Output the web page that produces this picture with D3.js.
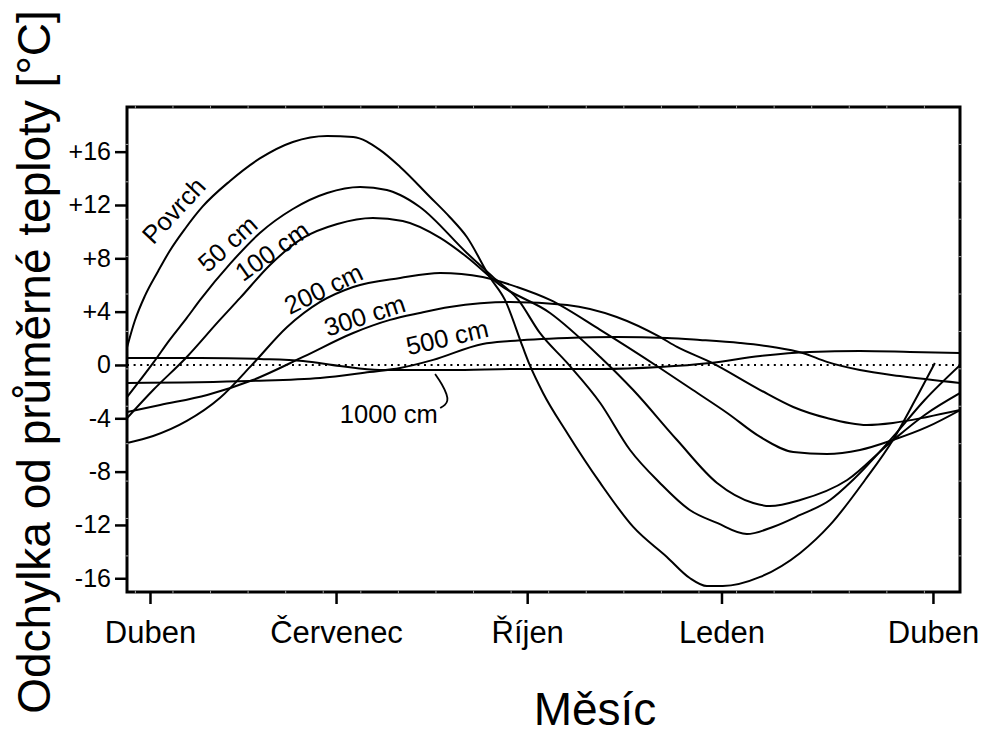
<!DOCTYPE html>
<html>
<head>
<meta charset="utf-8">
<script src="https://cdn.jsdelivr.net/npm/d3@7"></script>
<style>
  body { margin: 0; background: #fff; }
  svg text { font-family: "Liberation Sans", Arial, sans-serif; fill: #000; }
</style>
</head>
<body>
<div id="chart"></div>
<script>
// x in months from 1 April, y in degrees C deviation
const monthTicks = [0, 2.93, 5.94, 9.0, 12.33];
const monthLabels = ["Duben", "Červenec", "Říjen", "Leden", "Duben"];
const tempTicks = [16, 12, 8, 4, 0, -4, -8, -12, -16];
const tempTickLabels = ["+16", "+12", "+8", "+4", "0", "-4", "-8", "-12", "-16"];

const povrch = [[-0.36, 1.35], [-0.24, 3.3], [-0.08, 5.18], [0.13, 7.05], [0.31, 8.55], [0.55, 10.2],
  [0.83, 11.89], [1.26, 13.8], [1.73, 15.49], [2.25, 16.73], [2.79, 17.18], [3.2, 17.1], [3.62, 16.13],
  [3.94, 14.85], [4.41, 12.6], [4.72, 11.1], [4.99, 9.6], [5.35, 6.6], [5.59, 4.88], [5.87, 1.35],
  [5.98, 0], [6.19, -2.1], [6.57, -5.1], [7.09, -8.85], [7.61, -12.15], [8.14, -14.4], [8.5, -15.98],
  [8.77, -16.58], [9.02, -16.58], [9.61, -15.9], [10.24, -14.1], [10.71, -12.0], [11.26, -8.63],
  [11.7, -5.63], [12.05, -2.63], [12.36, 0.15]];
const cm50 = [[-0.36, -2.4], [0.05, 0.15], [0.31, 1.88], [0.58, 3.53], [0.79, 4.88], [1.26, 7.58],
  [1.73, 9.9], [2.25, 11.7], [2.79, 12.9], [3.31, 13.35], [3.73, 13.13], [3.94, 12.75], [4.25, 11.85],
  [4.99, 8.4], [5.4, 6.6], [5.8, 4.88], [6.14, 2.4], [6.57, 0.15], [7.09, -2.85], [7.56, -6.38],
  [8.03, -8.85], [8.5, -10.88], [8.93, -11.85], [9.4, -12.68], [9.81, -12.15], [10.24, -11.25],
  [10.71, -10.13], [11.07, -8.63], [11.7, -5.4], [12.2, -2.63], [12.76, 0]];
const cm100 = [[-0.36, -3.98], [0.05, -1.88], [0.58, 0.6], [1.1, 3.38], [1.42, 5.03], [1.89, 7.5],
  [2.41, 9.53], [2.95, 10.58], [3.51, 11.03], [3.98, 10.8], [4.57, 9.53], [4.99, 8.1], [5.51, 6.0],
  [6.3, 3.9], [7.09, 0.6], [7.61, -1.88], [8.3, -5.63], [8.93, -8.85], [9.5, -10.35], [9.76, -10.58],
  [10.24, -10.13], [10.98, -8.63], [11.65, -5.85], [12.2, -3.75], [12.76, -2.1]];
const cm200 = [[-0.36, -5.85], [0.05, -5.33], [0.58, -4.2], [1.1, -2.48], [1.62, 0.08], [2.16, 2.85],
  [2.68, 4.73], [3.2, 5.85], [3.94, 6.53], [4.57, 6.9], [5.24, 6.6], [5.78, 5.85], [6.3, 4.88],
  [7.09, 2.63], [8.03, -0.23], [8.55, -1.88], [9.09, -3.6], [9.61, -5.4], [10.13, -6.53], [10.66, -6.68],
  [11.18, -6.38], [11.7, -5.63], [12.24, -4.65], [12.76, -3.38]];
const cm300 = [[-0.36, -3.53], [0.16, -3.0], [0.9, -2.25], [1.62, -1.13], [2.41, 0.6], [3.2, 2.4],
  [3.78, 3.38], [4.25, 3.9], [4.72, 4.35], [5.67, 4.73], [6.57, 4.5], [7.35, 3.6], [8.03, 2.1], [8.3, 1.35],
  [8.82, 0.23], [9.61, -1.88], [10.13, -3.15], [10.66, -3.98], [11.29, -4.5], [11.7, -4.35],
  [12.24, -3.9], [12.76, -3.38]];
const cm500 = [[-0.36, -1.35], [1.57, -1.2], [2.68, -0.98], [3.46, -0.53], [3.94, -0.23], [4.46, 0.38],
  [5.24, 1.58], [5.67, 1.8], [6.57, 2.03], [7.35, 2.1], [8.14, 2.03], [8.66, 1.88], [9.29, 1.65],
  [9.81, 1.35], [10.28, 0.9], [10.66, 0.23], [11.18, -0.38], [11.81, -0.83], [12.76, -1.35]];
const cm1000 = [[-0.36, 0.53], [0.79, 0.53], [1.73, 0.45], [2.41, 0.3], [2.99, -0.08], [3.62, -0.38],
  [4.72, -0.38], [5.83, -0.3], [7.09, -0.3], [8.03, -0.15], [8.82, 0.15], [9.61, 0.68], [10.39, 0.98],
  [11.18, 1.05], [11.97, 0.98], [12.76, 0.9]];

const seriesNames = ["Povrch", "50 cm", "100 cm", "200 cm", "300 cm", "500 cm", "1000 cm"];
const seriesData = [povrch, cm50, cm100, cm200, cm300, cm500, cm1000];

// label anchors [month, value, rotation]
const labelPos = [[0.37, 11.6, -47], [1.22, 9.12, -42], [1.92, 8.56, -35], [2.73, 5.74, -26],
  [3.38, 3.74, -18], [4.68, 2.1, -13], [3.76, -3.68, 0]];
const leader1000 = [[4.49, -0.68], [4.6, -1.43], [4.68, -2.25], [4.69, -2.7], [4.65, -3.0], [4.57, -3.23]];

const width = 981;
const height = 736;

const svg = d3.select("#chart")
  .append("svg")
  .attr("width", width)
  .attr("height", height);

const x = d3.scaleLinear().domain([-0.362, 12.756]).range([127, 960]);
const y = d3.scaleLinear().domain([-17.03, 19.35]).range([592, 107]);

svg.append("clipPath")
  .attr("id", "plot")
  .append("rect")
  .attr("x", x.range()[0])
  .attr("y", y.range()[1])
  .attr("width", x.range()[1] - x.range()[0])
  .attr("height", y.range()[0] - y.range()[1]);

// zero line
svg.append("line")
  .attr("x1", x.range()[0])
  .attr("x2", x.range()[1])
  .attr("y1", y(0))
  .attr("y2", y(0))
  .attr("stroke", "#000")
  .attr("stroke-width", 2)
  .attr("stroke-dasharray", "2,4.6");

const line = d3.line()
  .x(d => x(d[0]))
  .y(d => y(d[1]))
  .curve(d3.curveMonotoneX);

svg.append("g")
  .attr("clip-path", "url(#plot)")
  .selectAll("path")
  .data(seriesData)
  .enter()
  .append("path")
  .attr("d", line)
  .attr("fill", "none")
  .attr("stroke", "#000")
  .attr("stroke-width", 2);

// series labels
svg.selectAll(".lbl")
  .data(seriesNames)
  .enter()
  .append("text")
  .attr("class", "lbl")
  .attr("transform", (d, i) => "translate(" + x(labelPos[i][0]) + "," + y(labelPos[i][1]) + ") rotate(" + labelPos[i][2] + ")")
  .attr("text-anchor", "middle")
  .attr("dy", "0.36em")
  .style("font-size", "25.5px")
  .text(d => d);

const leader = d3.line()
  .x(d => x(d[0]))
  .y(d => y(d[1]))
  .curve(d3.curveBasis);

svg.append("path")
  .attr("d", leader(leader1000))
  .attr("fill", "none")
  .attr("stroke", "#000")
  .attr("stroke-width", 1.8);

// frame
svg.append("rect")
  .attr("x", x.range()[0])
  .attr("y", y.range()[1])
  .attr("width", x.range()[1] - x.range()[0])
  .attr("height", y.range()[0] - y.range()[1])
  .attr("fill", "none")
  .attr("stroke", "#000")
  .attr("stroke-width", 3);

// faint minor marks on the frame
const minorX = d3.range(22).map(k => -0.23 + 0.5917 * k);
const minorY = d3.range(1, 13).map(k => 19.35 - 2.806 * k);
const marks = svg.append("g").attr("stroke", "#a0a0a0").attr("stroke-width", 1);

minorX.forEach(m => {
  [y.range()[1], y.range()[0]].forEach(py => {
    marks.append("line")
      .attr("x1", x(m)).attr("x2", x(m))
      .attr("y1", py - 1.5).attr("y2", py + 1.5);
  });
});
minorY.forEach(v => {
  [x.range()[0], x.range()[1]].forEach(px => {
    marks.append("line")
      .attr("x1", px - 1.5).attr("x2", px + 1.5)
      .attr("y1", y(v)).attr("y2", y(v));
  });
});

// axes
svg.append("g")
  .attr("transform", "translate(" + x.range()[0] + ",0)")
  .call(d3.axisLeft(y).tickValues(tempTicks).tickFormat((d, i) => tempTickLabels[i]).tickSize(12).tickPadding(4))
  .attr("font-family", null)
  .attr("font-size", null)
  .call(g => g.select(".domain").remove())
  .call(g => g.selectAll("line").attr("stroke", "#000").attr("stroke-width", 2.5))
  .call(g => g.selectAll("text").style("font-size", "25px").attr("fill", "#000"));

svg.append("g")
  .attr("transform", "translate(0," + y.range()[0] + ")")
  .call(d3.axisBottom(x).tickValues(monthTicks).tickFormat((d, i) => monthLabels[i]).tickSize(12).tickPadding(17))
  .attr("font-family", null)
  .attr("font-size", null)
  .call(g => g.select(".domain").remove())
  .call(g => g.selectAll("line").attr("stroke", "#000").attr("stroke-width", 2.5))
  .call(g => g.selectAll("text").style("font-size", "31px").attr("fill", "#000"));

// axis titles
svg.append("text")
  .attr("transform", "translate(50," + 362 + ") rotate(-90)")
  .attr("text-anchor", "middle")
  .style("font-size", "46px")
  .text("Odchylka od průměrné teploty [°C]");

svg.append("text")
  .attr("x", 595)
  .attr("y", 725)
  .attr("text-anchor", "middle")
  .style("font-size", "46px")
  .text("Měsíc");
</script>
</body>
</html>
